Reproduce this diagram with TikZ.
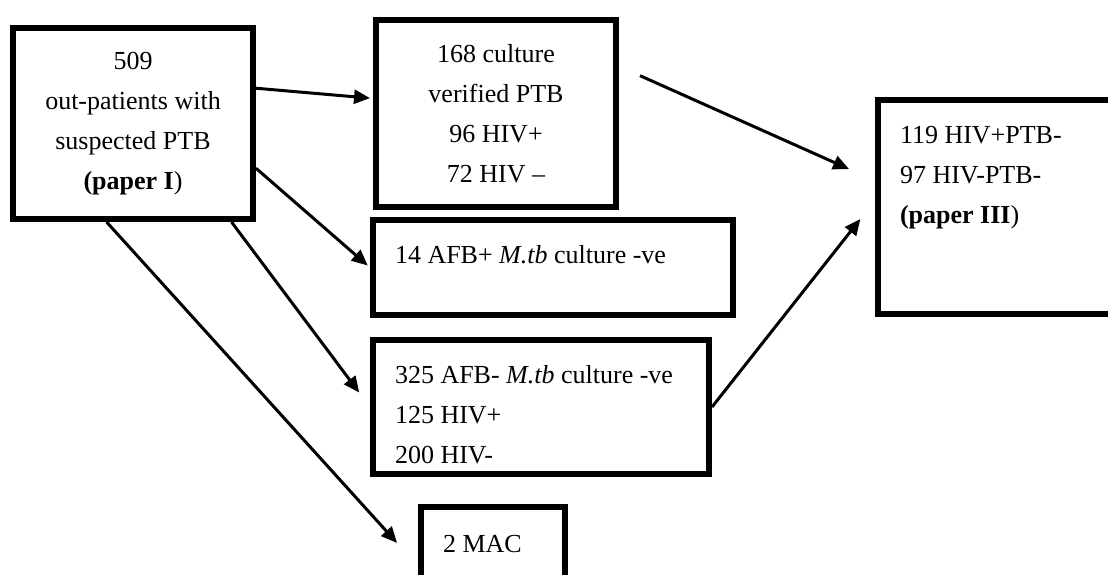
\documentclass[tikz,border=0pt]{standalone}
\usepackage{fontspec}
\setmainfont{Liberation Serif}
\usetikzlibrary{arrows.meta}

\begin{document}
\begin{tikzpicture}[x=0.5pt, y=-0.5pt, font=\fontsize{13}{20}\selectfont,
        box/.style={draw, line width=3pt, inner sep=0pt},
        cbox/.style={box, align=center},
        lbox/.style={box, align=flush left, inner xsep=11pt, inner ysep=0pt, text height=21.5pt},
        arr/.style={line width=1.5pt, -{Triangle[length=8pt,width=7pt]}}]
        \useasboundingbox (0,0) rectangle (1108,574);
        \clip (0,0) rectangle (1108,574);
        \node[cbox, minimum width=120pt, minimum height=95.5pt] (pat) at (133,123.5) {509\\out-patients with\\suspected PTB\\\textbf{(paper I})};
        \node[cbox, minimum width=120pt, minimum height=93.5pt] (cult) at (496,113.5) {168 culture\\verified PTB\\96 HIV+\\72 HIV --};
        \node[lbox, text width=158pt, text depth=26pt] (afbpos) at (553,267.5) {14 AFB+ \textit{M.tb} culture -ve};
        \node[lbox, text width=146pt, text depth=45.5pt] (afbneg) at (541,407) {325 AFB- \textit{M.tb} culture -ve\\125 HIV+\\200 HIV-};
        \node[lbox, text width=50pt, text depth=30pt, text height=22.5pt] (mac) at (493,559.5) {2 MAC};
        \node[lbox, text width=99pt, text depth=85.5pt] (ptbneg) at (999,207) {119 HIV+PTB-\\97 HIV-PTB-\\\textbf{(paper III})};
        % arrows
        \draw[arr, shorten >=1.5pt] (pat.16.6) -- (cult.173.3);
        \draw[arr, shorten >=1.5pt] (pat.-20.6) -- (afbpos.west);
        \draw[arr, shorten >=9pt] (pat.-45.5) -- (afbneg.west);
        \draw[arr, shorten >=15.6pt] (pat.-105) -- (mac.-175.5);
        \draw[arr, shorten <=11.5pt, shorten >=14.2pt] (cult.21.7) -- (ptbneg.168.1);
        \draw[arr, shorten >=11.8pt] (afbneg.east) -- (ptbneg.177.5);
    \end{tikzpicture}
\end{document}
